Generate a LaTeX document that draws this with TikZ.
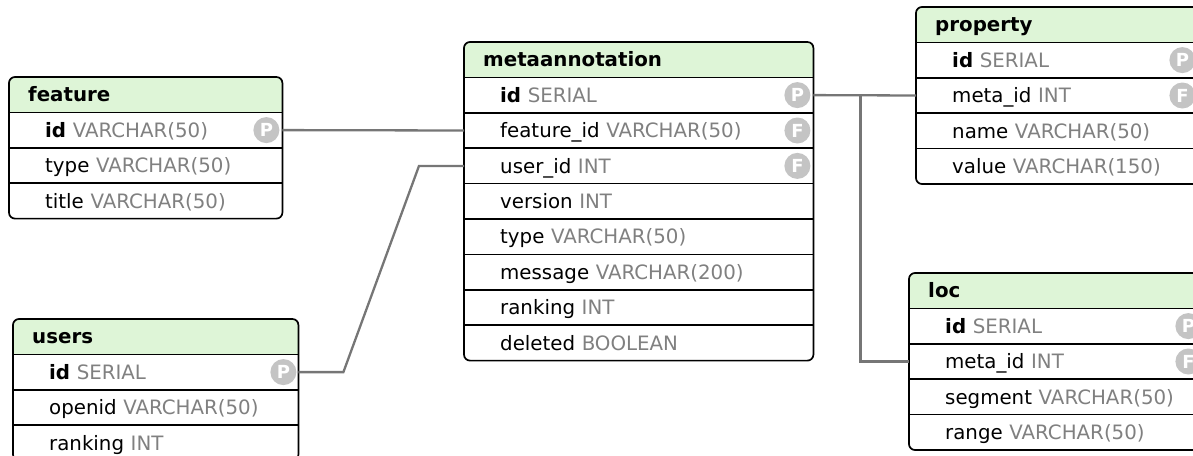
\documentclass[tikz,border=0pt]{standalone}
\usepackage{fontspec}
\setmainfont{DejaVu Sans}
\usetikzlibrary{positioning,backgrounds}

\definecolor{headgreen}{RGB}{222,245,215}
\definecolor{typegrey}{RGB}{128,128,128}
\definecolor{badgegrey}{RGB}{196,196,196}
\definecolor{linkgrey}{RGB}{118,118,118}

% column name followed by its sql type
\newcommand{\fld}[2]{#1 \textcolor{typegrey}{#2}}
\newcommand{\pkfld}[1]{\textbf{id} \textcolor{typegrey}{#1}}

\begin{document}
\begin{tikzpicture}[x=1pt, y=-1pt,
    font=\fontsize{19.8}{23}\selectfont,
    tablehead/.style={text width=#1, minimum height=35, inner xsep=0, inner ysep=0,
      text height=14.4, text depth=0, align=left,
      font=\fontsize{19.8}{23}\selectfont\bfseries,
      execute at begin node=\hspace*{19pt}},
    field/.style={text width=#1, minimum height=35, inner xsep=0, inner ysep=0,
      text height=14.4, text depth=0, align=left, fill=white,
      execute at begin node=\hspace*{36pt}},
    key/.style={circle, fill=badgegrey, text=white, minimum size=26, inner sep=0,
      font=\fontsize{18}{18}\selectfont\bfseries},
    frame/.style={draw, line width=1.7, rounded corners=6},
    sep/.style={line width=1.7},
    link/.style={draw=linkgrey, line width=2.3}]
   \useasboundingbox (0,0) rectangle (1193,455);

   % feature
   \node[tablehead=273pt, anchor=north west] (feat) at (9,77) {feature};
   \node[field=273pt, below=0pt of feat] (feat-id) {\pkfld{VARCHAR(50)}};
   \node[field=273pt, below=0pt of feat-id] (feat-type) {\fld{type}{VARCHAR(50)}};
   \node[field=273pt, below=0pt of feat-type] (feat-title) {\fld{title}{VARCHAR(50)}};

   % users
   \node[tablehead=285pt, anchor=north west] (usr) at (13,319) {users};
   \node[field=285pt, below=0pt of usr] (usr-id) {\pkfld{SERIAL}};
   \node[field=285pt, below=0pt of usr-id] (usr-openid) {\fld{openid}{VARCHAR(50)}};
   \node[field=285pt, below=0pt of usr-openid] (usr-rank) {\fld{ranking}{INT}};

   % metaannotation
   \node[tablehead=349pt, anchor=north west] (meta) at (464,42) {metaannotation};
   \node[field=349pt, below=0pt of meta] (meta-id) {\pkfld{SERIAL}};
   \node[field=349pt, below=0pt of meta-id] (meta-fid) {\fld{feature\_id}{VARCHAR(50)}};
   \node[field=349pt, below=0pt of meta-fid] (meta-uid) {\fld{user\_id}{INT}};
   \node[field=349pt, below=0pt of meta-uid] (meta-ver) {\fld{version}{INT}};
   \node[field=349pt, below=0pt of meta-ver] (meta-type) {\fld{type}{VARCHAR(50)}};
   \node[field=349pt, below=0pt of meta-type] (meta-msg) {\fld{message}{VARCHAR(200)}};
   \node[field=349pt, below=0pt of meta-msg] (meta-rank) {\fld{ranking}{INT}};
   \node[field=349pt, below=0pt of meta-rank] (meta-del) {\fld{deleted}{BOOLEAN}};

   % property
   \node[tablehead=282pt, anchor=north west] (prop) at (916,7) {property};
   \node[field=282pt, below=0pt of prop] (prop-id) {\pkfld{SERIAL}};
   \node[field=282pt, below=0pt of prop-id] (prop-mid) {\fld{meta\_id}{INT}};
   \node[field=282pt, below=0pt of prop-mid] (prop-name) {\fld{name}{VARCHAR(50)}};
   \node[field=282pt, below=0pt of prop-name] (prop-val) {\fld{value}{VARCHAR(150)}};

   % loc
   \node[tablehead=295pt, anchor=north west] (loc) at (909,273) {loc};
   \node[field=295pt, below=0pt of loc] (loc-id) {\pkfld{SERIAL}};
   \node[field=295pt, below=0pt of loc-id] (loc-mid) {\fld{meta\_id}{INT}};
   \node[field=295pt, below=0pt of loc-mid] (loc-seg) {\fld{segment}{VARCHAR(50)}};
   \node[field=295pt, below=0pt of loc-seg] (loc-range) {\fld{range}{VARCHAR(50)}};

   % green title bars, run a bit under the first row
   \begin{scope}[on background layer]
     \foreach \t in {feat,usr,meta,prop,loc}
       \fill[headgreen, rounded corners=6] (\t.north west) rectangle ([yshift=-10pt]\t.south east);
   \end{scope}

   % outlines and row lines
   \draw[frame] (feat.north west) rectangle (feat-title.south east);
   \draw[frame] (usr.north west) rectangle (usr-rank.south east);
   \draw[frame] (meta.north west) rectangle (meta-del.south east);
   \draw[frame] (prop.north west) rectangle (prop-val.south east);
   \draw[frame] (loc.north west) rectangle (loc-range.south east);
   \foreach \r in {feat-id,feat-type,feat-title,usr-id,usr-openid,usr-rank,
       meta-id,meta-fid,meta-uid,meta-ver,meta-type,meta-msg,meta-rank,meta-del,
       prop-id,prop-mid,prop-name,prop-val,loc-id,loc-mid,loc-seg,loc-range}
     \draw[sep] (\r.north west) -- (\r.north east);

   % key badges
   \node[key] (feat-pk) at ([xshift=-16pt]feat-id.east) {P};
   \node[key] (usr-pk) at ([xshift=-15pt]usr-id.east) {P};
   \node[key] (meta-pk) at ([xshift=-16pt]meta-id.east) {P};
   \node[key] (meta-fk1) at ([xshift=-16pt]meta-fid.east) {F};
   \node[key] (meta-fk2) at ([xshift=-16pt]meta-uid.east) {F};
   \node[key] (prop-pk) at ([xshift=-16pt]prop-id.east) {P};
   \node[key] (prop-fk) at ([xshift=-16pt]prop-mid.east) {F};
   \node[key] (loc-pk) at ([xshift=-16pt]loc-id.east) {P};
   \node[key] (loc-fk) at ([xshift=-16pt]loc-mid.east) {F};

   % relations
   \draw[link] (feat-id.east) -- (meta-fid.west);
   \draw[link] (usr-id.east) -- ++(45,0) -- ([xshift=-45pt]meta-uid.west) -- (meta-uid.west);
   \draw[link] (meta-id.east) -- (prop-mid.west);
   \coordinate (fork) at ([xshift=47pt]meta-id.east);
   \draw[link] (fork) |- (loc-mid.west);
\end{tikzpicture}
\end{document}
